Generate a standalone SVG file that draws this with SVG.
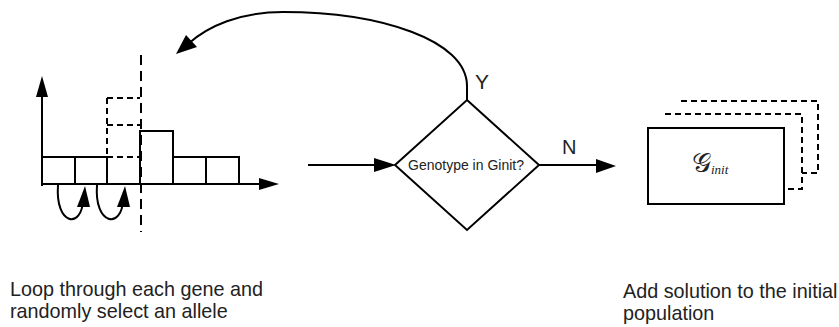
<svg xmlns="http://www.w3.org/2000/svg" width="839" height="327" viewBox="0 0 839 327">
<style>
.ln{fill:none;stroke:#000;stroke-width:2}
.dash{fill:none;stroke:#000;stroke-width:2;stroke-dasharray:6 4}
.ldash{fill:none;stroke:#000;stroke-width:2;stroke-dasharray:10 6}
.bar{fill:#fff;stroke:#000;stroke-width:2}
.head{fill:#000;stroke:none}
.lbl{font-family:"Liberation Sans",Arial,sans-serif;fill:#222}
</style>
<rect width="839" height="327" fill="#fff"/>
<g id="chart">
  <rect class="bar" x="42" y="157" width="33" height="27"/>
  <rect class="bar" x="75" y="157" width="32" height="27"/>
  <rect class="bar" x="140" y="131" width="33" height="53"/>
  <rect class="bar" x="173" y="157" width="33" height="27"/>
  <rect class="bar" x="206" y="157" width="33" height="27"/>
  <path class="dash" d="M107 98 H140 M107 98 V184 M107 125 H140 M107 157 H140 M107 184 H140"/>
  <path class="ldash" d="M141 55 V232"/>
  <path class="ln" d="M42 186 V94"/>
  <polygon class="head" points="42,76 36,97 48,97"/>
  <path class="ln" d="M41 184 H262"/>
  <polygon class="head" points="279,184 259,178 259,190"/>
  <path class="ln" d="M58 185 C55 226 82 229 83 200"/>
  <polygon class="head" points="85,186 77,207 90,207"/>
  <path class="ln" d="M97 185 C94 226 122 229 123 200"/>
  <polygon class="head" points="125,186 117,207 130,207"/>
</g>
<g id="decision">
  <polygon points="467,100 539,165 467,230 395,165" fill="#fff" stroke="#000" stroke-width="2"/>
  <text class="lbl" x="466" y="170" font-size="14" text-anchor="middle">Genotype in Ginit?</text>
</g>
<g id="population">
  <path class="dash" d="M681 101 H818 V173 H802"/>
  <path class="dash" d="M665 114 H802 V189 H784"/>
  <rect x="648" y="128" width="136" height="76" fill="#fff" stroke="#000" stroke-width="2"/>
  <text x="692" y="172" font-family="'DejaVu Serif','Liberation Serif',serif" font-size="27" fill="#222">𝒢<tspan font-family="'Liberation Serif',serif" font-size="13" font-style="italic" dy="2">init</tspan></text>
</g>
<g id="connectors">
  <path class="ln" d="M467 100 V86 C467 40 380 12 283 12 C240 12 208 26 188 44"/>
  <polygon class="head" points="176,54 186,35 197,47"/>
  <path class="ln" d="M308 165 H378"/>
  <polygon class="head" points="396,165 374,158 374,172"/>
  <path class="ln" d="M539 165 H600"/>
  <polygon class="head" points="616,166 596,159 596,173"/>
  <text class="lbl" x="475" y="89" font-size="21">Y</text>
  <text class="lbl" x="562" y="154" font-size="20">N</text>
</g>
<g id="labels">
  <text class="lbl" x="10" y="296" font-size="19.8">Loop through each gene and</text>
  <text class="lbl" x="10" y="318" font-size="19.8">randomly select an allele</text>
  <text class="lbl" x="623" y="298" font-size="19.8">Add solution to the initial</text>
  <text class="lbl" x="623" y="320" font-size="19.8">population</text>
</g>
</svg>
